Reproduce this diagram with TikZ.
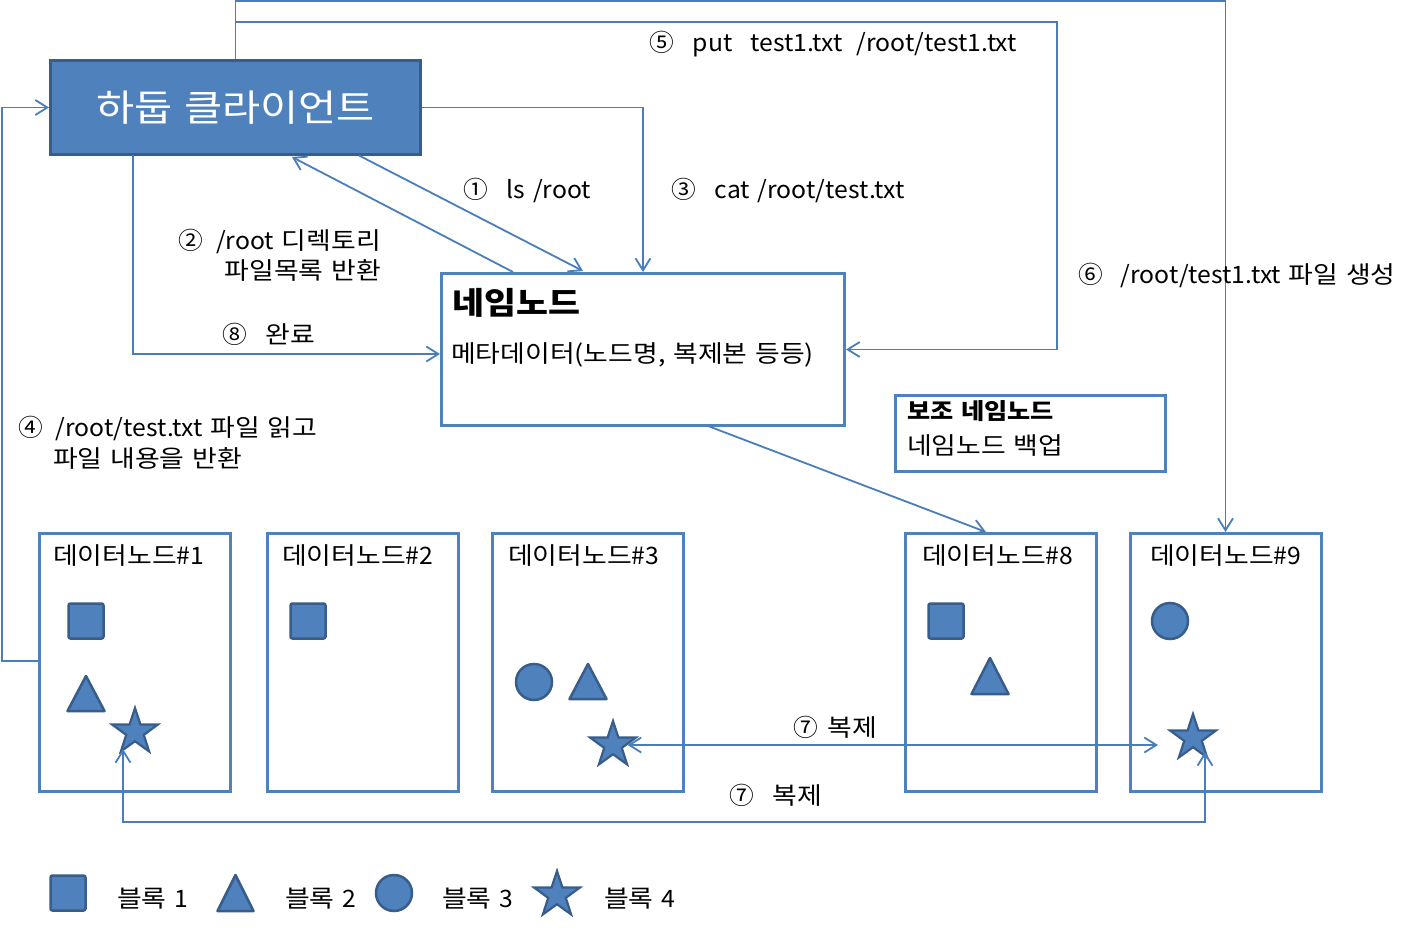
\documentclass[tikz,border=0pt]{standalone}
\usepackage{fontspec}
\setmainfont[FakeStretch=1.03,WordSpace=1.4]{Noto Sans CJK KR}
\newfontfamily\kr[FakeStretch=1.12,WordSpace=1.3]{Noto Sans CJK KR}
\usetikzlibrary{arrows.meta,shapes.geometric,calc}
\definecolor{fillblue}{HTML}{4F81BD}
\definecolor{darkblue}{HTML}{385D8A}
\definecolor{lineblue}{HTML}{4A7EBB}
\begin{document}
\begin{tikzpicture}[x=1pt,y=-1pt,
  conn/.style={draw=lineblue, line width=1.8pt, line join=miter},
  tip/.style={-{Straight Barb[length=12pt,width=15pt]}},
  tips/.style={{Straight Barb[length=12pt,width=15pt]}-{Straight Barb[length=12pt,width=15pt]}},
  boxframe/.style={draw=fillblue, line width=3pt, fill=white, inner sep=0pt},
  lbl/.style={font=\fontsize{24}{30}\selectfont, inner sep=0pt, anchor=west},
  sq/.style={rectangle, rounded corners=2pt, fill=fillblue, draw=darkblue, line width=2.5pt, minimum size=35pt, inner sep=0pt},
  circ/.style={circle, fill=fillblue, draw=darkblue, line width=2.5pt, minimum size=36pt, inner sep=0pt},
  starshape/.style={star, star points=5, star point ratio=2.6, fill=fillblue, draw=darkblue, line width=2.2pt, minimum size=48pt, inner sep=0pt},
  tri/.style={fill=fillblue, draw=darkblue, line width=2.5pt, line join=round}
]
\useasboundingbox (0,0) rectangle (1424,928);

% main boxes
\node[draw=darkblue, fill=fillblue, line width=3pt, minimum width=370pt, minimum height=94pt, inner sep=0pt,
      text=white, font=\fontsize{37}{42}\selectfont\kr] (client) at (235.5,107.5) {하둡 클라이언트};
\node[boxframe, minimum width=403pt, minimum height=152pt] (nn) at (643,349.5) {};
\node[lbl, font=\fontsize{31}{36}\selectfont\kr\bfseries] (nntitle) at (452,303) {네임노드};
\node[lbl, font=\fontsize{24}{30}\selectfont\kr] (nnmeta) at (451,355) {메타데이터(노드명, 복제본 등등)};

\node[boxframe, minimum width=270pt, minimum height=76pt] (snn) at (1030.5,433.5) {};
\node[lbl, font=\fontsize{22.5}{27}\selectfont\kr\bfseries] (snntitle) at (907,411) {보조 네임노드};
\node[lbl, font=\fontsize{24}{30}\selectfont\kr] (snnsub) at (907,446) {네임노드 백업};

% data nodes
\node[boxframe, minimum width=191pt, minimum height=258pt] (dn1) at (135,662.5) {};
\node[boxframe, minimum width=191pt, minimum height=258pt] (dn2) at (363,662.5) {};
\node[boxframe, minimum width=191pt, minimum height=258pt] (dn3) at (587.5,662.5) {};
\node[boxframe, minimum width=191pt, minimum height=258pt] (dn8) at (1001,662.5) {};
\node[boxframe, minimum width=191pt, minimum height=258pt] (dn9) at (1225.5,662.5) {};
\node[lbl] (dn1t) at (53,556) {{\kr 데이터노드}\#1};
\node[lbl] (dn2t) at (282,556) {{\kr 데이터노드}\#2};
\node[lbl] (dn3t) at (508,556) {{\kr 데이터노드}\#3};
\node[lbl] (dn8t) at (922,556) {{\kr 데이터노드}\#8};
\node[lbl] (dn9t) at (1150,556) {{\kr 데이터노드}\#9};

% blocks in data nodes
\node[sq] (b1a) at (86,621) {};
\draw[tri] (86,676) -- (104.5,711) -- (67.5,711) -- cycle;
\node[starshape] (s1) at (135,732) {};
\node[sq] (b1b) at (308,621) {};
\node[circ] (c3) at (534,682) {};
\draw[tri] (588,664) -- (606.5,699) -- (569.5,699) -- cycle;
\node[starshape] (s3) at (613,745) {};
\node[sq] (b1c) at (946,621) {};
\draw[tri] (990,658) -- (1008.5,694) -- (971.5,694) -- cycle;
\node[circ] (c9) at (1170,621) {};
\node[starshape] (s9) at (1193,738) {};

% legend
\node[sq] (lsq) at (68,893) {};
\node[lbl] (l1) at (117,899) {{\kr 블록} 1};
\draw[tri] (235.5,875) -- (253.5,911) -- (217.5,911) -- cycle;
\node[lbl] (l2) at (285,899) {{\kr 블록} 2};
\node[circ] (lci) at (394,893) {};
\node[lbl] (l3) at (442,899) {{\kr 블록} 3};
\node[starshape] (lst) at (557,895) {};
\node[lbl] (l4) at (604,899) {{\kr 블록} 4};

% helper coordinates
\coordinate (top1) at (client.north |- 0,1);
\coordinate (top2) at (client.north |- 0,22);
\coordinate (c1out) at (359,155.5);
\coordinate (nn1in) at (583,271);
\coordinate (nn2out) at (513,272);
\coordinate (c2in) at (292,157);
\coordinate (c8out) at (133,155.5);
\coordinate (s1in) at (123,749);
\coordinate (s9in) at (1205,752);
\coordinate (nnout) at (708,426);

% connectors
\draw[conn,tip] (client.north) -- (top1) -| (dn9.north);
\draw[conn,tip] (top2) -- (1057,22) |- (nn.east);
\draw[conn,tip] (client.east) -| (nn.north);
\draw[conn,tip] (c1out) -- (nn1in);
\draw[conn,tip] (nn2out) -- (c2in);
\draw[conn,tip] (c8out) |- (nn.west |- 0,354);
\draw[conn,tip] (dn1.west |- 0,661) -- (2,661) |- (client.west);
\draw[conn,tip] (nnout) -- (986,532);
\draw[conn,tips] (s3.east |- 0,745) -- (1158,745);
\draw[conn,tips] (s1in) |- (1205,822) -- (s9in);

% labels
\node[lbl] (t5) at (649,44) {⑤\hspace{19pt}put\hspace{18pt}test1.txt\hspace{14pt}/root/test1.txt};
\node[lbl] (t1) at (463,190) {①\hspace{19pt}ls /root};
\node[lbl] (t3) at (671,190) {③\hspace{19pt}cat /root/test.txt};
\node[lbl, anchor=east, align=right] (t2) at (381,255) {②\hspace{13pt}/root {\kr 디렉토리}\\{\kr 파일목록 반환}};
\node[lbl] (t8) at (222,334) {⑧\hspace{19pt}{\kr 완료}};
\node[lbl] (t4a) at (18,428) {④\hspace{13pt}/root/test.txt {\kr 파일 읽고}};
\node[lbl] (t4b) at (53,458) {{\kr 파일 내용을 반환}};
\node[lbl] (t6) at (1078,275) {⑥\hspace{18pt}/root/test1.txt {\kr 파일 생성}};
\node[lbl] (t7a) at (793,727) {⑦\hspace{10pt}{\kr 복제}};
\node[lbl] (t7b) at (729,795) {⑦\hspace{19pt}{\kr 복제}};
\end{tikzpicture}
\end{document}
